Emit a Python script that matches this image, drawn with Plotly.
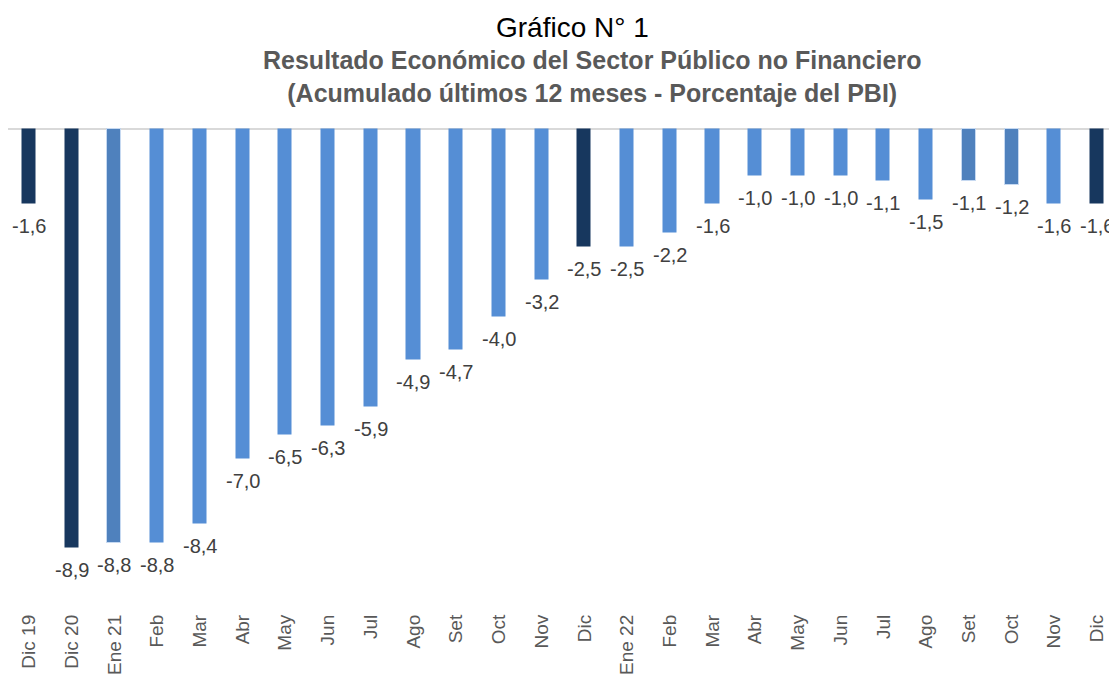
import plotly.graph_objects as go

categories = ["Dic 19", "Dic 20", "Ene 21", "Feb", "Mar", "Abr", "May", "Jun", "Jul",
              "Ago", "Set", "Oct", "Nov", "Dic", "Ene 22", "Feb", "Mar", "Abr", "May",
              "Jun", "Jul", "Ago", "Set", "Oct", "Nov", "Dic"]
values = [-1.6, -8.9, -8.8, -8.8, -8.4, -7.0, -6.5, -6.3, -5.9, -4.9, -4.7, -4.0, -3.2,
          -2.5, -2.5, -2.2, -1.6, -1.0, -1.0, -1.0, -1.1, -1.5, -1.1, -1.2, -1.6, -1.6]
# bar colour group: 0 = regular, 1 = December highlight, 2 = alternate shade
color_group = [1, 1, 2, 0, 0, 0, 0, 0, 0, 0, 0, 0, 0,
               1, 0, 0, 0, 0, 0, 0, 0, 0, 2, 2, 0, 1]

palette = {0: "#558ED5", 1: "#17375E", 2: "#4F81BD"}
outline = {0: "rgba(0,0,0,0)", 1: "rgba(0,0,0,0)", 2: "#C6D9F1"}

positions = list(range(len(categories)))
labels = [f"{v:.1f}".replace(".", ",") for v in values]

FONT = "Arial, 'Liberation Sans', sans-serif"

fig = go.Figure()
fig.add_trace(go.Bar(
    x=positions, y=values, width=0.33,
    marker=dict(color=[palette[g] for g in color_group],
                line=dict(color=[outline[g] for g in color_group], width=1)),
    hoverinfo="skip", showlegend=False,
))

annotations = []
for p, v, t in zip(positions, values, labels):
    annotations.append(dict(x=p, y=v, xref="x", yref="y", text=t, showarrow=False,
                            yshift=-22, font=dict(family=FONT, size=20, color="#404040")))

annotations.append(dict(x=0.509, y=1.165, xref="paper", yref="paper", text="Gráfico N° 1",
                        showarrow=False, xanchor="center", yanchor="middle",
                        font=dict(family=FONT, size=28, color="#000000")))
annotations.append(dict(x=0.527, y=1.066, xref="paper", yref="paper",
                        text="<b>Resultado Económico del Sector Público no Financiero</b><br>"
                             "<b>(Acumulado últimos 12 meses - Porcentaje del PBI)</b>",
                        showarrow=False, xanchor="center", yanchor="middle",
                        font=dict(family=FONT, size=25, color="#595959")))

fig.add_shape(type="line", xref="paper", yref="y", x0=0, x1=1, y0=0, y1=0,
              line=dict(color="#D9D9D9", width=2), layer="below")

fig.update_layout(
    width=1109, height=667,
    margin=dict(l=0, r=0, t=102, b=65),
    paper_bgcolor="white", plot_bgcolor="white",
    annotations=annotations,
    bargap=0,
    xaxis=dict(range=[-0.4916, 25.468], tickmode="array", tickvals=positions,
               ticktext=categories, tickangle=-90, showgrid=False, zeroline=False,
               showline=False, ticks="", automargin=False,
               tickfont=dict(family=FONT, size=19, color="#595959")),
    yaxis=dict(range=[-10.217, 0.4036], visible=False, showgrid=False, zeroline=False),
)

fig.write_html("out.html")
